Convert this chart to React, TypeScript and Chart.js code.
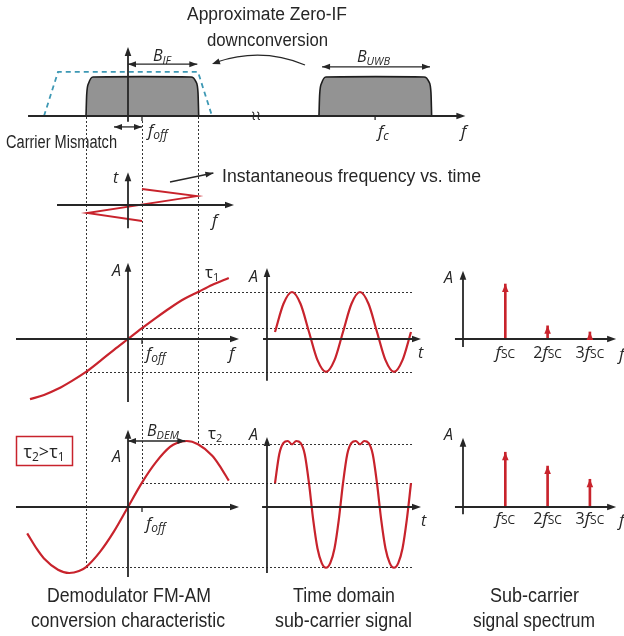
import React, { useEffect, useRef } from 'react';
import { Chart, registerables } from 'chart.js';

Chart.register(...registerables);

const W = 624;
const H = 636;

// ---------------- data ----------------
// frequency axis in IF units (origin = 0), carrier mismatch and UWB carrier
const fOff = 1;
const fCarrier = 17.65;
const guideF = [-3, 1, 5]; // IF band edges and f_off
const guideEndT = 2.03;

// top spectrum
const ifBandF = [-3, -2.95, -2.8, -2.5, 1, 4.5, 4.85, 5.0, 5.05];
const ifBandH = [0, 0.55, 0.85, 1.0, 1.01, 1.0, 0.88, 0.6, 0];
const uwbBandF = [13.64, 13.69, 13.84, 14.14, 17.7, 21.14, 21.49, 21.64, 21.69];
const uwbBandH = [0, 0.55, 0.85, 1.0, 1.01, 1.0, 0.88, 0.6, 0];
const filterF = [-6, -5, 5, 6];
const filterH = [0, 1.13, 1.13, 0];

// instantaneous frequency vs. time
const instF = [1, 4.93, -2.93, 1];
const instT = [2, 1.12, -1.0, -2];

// demodulator characteristic, tau1
const demod1F = [-7, -6, -5, -4, -3, -2, -1, 0, 1, 2, 3, 4, 5, 6, 7.2];
const demod1A = [-1.28, -1.19, -1.06, -0.89, -0.7, -0.47, -0.23, 0, 0.23, 0.45, 0.66, 0.85, 1.0, 1.15, 1.3];

// time-domain sub-carrier, tau1
const time1T = [0, 0.125, 0.25, 0.375, 0.5, 0.625, 0.75, 0.875, 1, 1.125, 1.25, 1.375, 1.5, 1.625, 1.75, 1.875, 2];
const time1A = [0.15, 0.75, 1.0, 0.75, 0.15, -0.45, -0.7, -0.45, 0.15, 0.75, 1.0, 0.75, 0.15, -0.45, -0.7, -0.45, 0.15];

// sub-carrier spectrum, tau1
const scK = [1, 2, 3];
const spec1A = [1.17, 0.28, 0.15];

// demodulator characteristic, tau2
const demod2F = [-7.2, -6.5, -6, -5, -4.2, -3.5, -3, -2, -1, 0, 1, 2, 3, 3.5, 4.2, 5, 6, 6.5, 7.2];
const demod2A = [-0.4, -0.64, -0.78, -0.95, -1.0, -0.97, -0.91, -0.68, -0.37, 0, 0.37, 0.68, 0.91, 0.97, 1.0, 0.95, 0.78, 0.64, 0.4];

// time-domain sub-carrier, tau2
const time2T = [0, 0.0625, 0.125, 0.1875, 0.25, 0.3125, 0.375, 0.4375, 0.5, 0.5625, 0.625, 0.6875, 0.75, 0.8125, 0.875, 0.9375, 1,
  1.0625, 1.125, 1.1875, 1.25, 1.3125, 1.375, 1.4375, 1.5, 1.5625, 1.625, 1.6875, 1.75, 1.8125, 1.875, 1.9375, 2];
const time2A = [0.36, 0.8, 0.97, 1.0, 0.95, 1.0, 0.97, 0.8, 0.36, -0.2, -0.63, -0.85, -0.92, -0.85, -0.63, -0.2, 0.36,
  0.8, 0.97, 1.0, 0.95, 1.0, 0.97, 0.8, 0.36, -0.2, -0.63, -0.85, -0.92, -0.85, -0.63, -0.2, 0.36];

// sub-carrier spectrum, tau2
const spec2A = [0.83, 0.62, 0.42];
const scLabels = ['', '2', '3'];

// ---------------- styling ----------------
const RED = '#c8232c';
const INK = '#262626';
const AXIS = '#262626';
const NARROW = '"Liberation Sans", Arial, sans-serif';
const MATH = '"Open Sans", "Noto Sans", sans-serif';

const pts = (xs: number[], ys: number[]) => xs.map((x, i) => ({ x, y: ys[i] }));

// map a data range onto a pixel origin / pixels-per-unit over the full canvas
const xMap = (origin: number, unit: number) => ({
  type: 'linear', display: false, offset: false, min: -origin / unit, max: (W - origin) / unit,
  grid: { display: false }, border: { display: false }, ticks: { display: false },
});
const yMap = (origin: number, unit: number) => ({
  type: 'linear', display: false, offset: false, min: (origin - H) / unit, max: origin / unit,
  grid: { display: false }, border: { display: false }, ticks: { display: false },
});

function seg(ctx: CanvasRenderingContext2D, x1: number, y1: number, x2: number, y2: number) {
  ctx.beginPath();
  ctx.moveTo(x1, y1);
  ctx.lineTo(x2, y2);
  ctx.stroke();
}

function head(ctx: CanvasRenderingContext2D, x: number, y: number, ang: number, len = 9, half = 3.3) {
  ctx.save();
  ctx.translate(x, y);
  ctx.rotate(ang);
  ctx.beginPath();
  ctx.moveTo(0, 0);
  ctx.lineTo(-len, -half);
  ctx.lineTo(-len, half);
  ctx.closePath();
  ctx.fill();
  ctx.restore();
}

function arrow(ctx: CanvasRenderingContext2D, x1: number, y1: number, x2: number, y2: number, both: boolean) {
  const ang = Math.atan2(y2 - y1, x2 - x1);
  seg(ctx, x1, y1, x2, y2);
  head(ctx, x2, y2, ang, 8, 3);
  if (both) head(ctx, x1, y1, ang + Math.PI, 8, 3);
}

function narrowText(ctx: CanvasRenderingContext2D, s: string, cx: number, base: number, size: number, width: number) {
  ctx.font = `${size}px ${NARROW}`;
  const w = ctx.measureText(s).width;
  ctx.save();
  ctx.translate(cx, base);
  ctx.scale(width / w, 1);
  ctx.textAlign = 'center';
  ctx.textBaseline = 'alphabetic';
  ctx.fillText(s, 0, 0);
  ctx.restore();
}

type Part = [string, number, boolean, number];
function mathText(ctx: CanvasRenderingContext2D, x: number, base: number, parts: Part[], align: 'left' | 'center' = 'left') {
  ctx.textAlign = 'left';
  ctx.textBaseline = 'alphabetic';
  const ws = parts.map(([t, sz, it]) => {
    ctx.font = `${it ? 'italic ' : ''}${sz}px ${MATH}`;
    return ctx.measureText(t).width;
  });
  const total = ws.reduce((a, b) => a + b, 0);
  let cx = align === 'center' ? x - total / 2 : x;
  parts.forEach(([t, sz, it, dy], i) => {
    ctx.font = `${it ? 'italic ' : ''}${sz}px ${MATH}`;
    ctx.fillText(t, cx, base + dy);
    cx += ws[i];
  });
}

const axesSpec: [string, string, 'h' | 'v', number, number, number][] = [
  ['xF', 'yS', 'h', 0, -7.14, 24.1],
  ['xF', 'yS', 'v', 0, -0.15, 1.77],
  ['xF', 'yI', 'h', 0, -5.07, 7.57],
  ['xF', 'yI', 'v', 0, -2.9, 4.1],
  ['xF', 'yA1', 'h', 0, -8, 7.93],
  ['xF', 'yA1', 'v', 0, -1.34, 1.62],
  ['xT', 'yA1', 'h', 0, -0.176, 2.147],
  ['xT', 'yA1', 'v', -0.118, -0.89, 1.51],
  ['xK', 'yA1', 'h', 0, -0.19, 3.62],
  ['xK', 'yA1', 'v', 0, -0.17, 1.45],
  ['xF', 'yA2', 'h', 0, -8, 7.93],
  ['xF', 'yA2', 'v', 0, -1.06, 1.17],
  ['xT', 'yA2', 'h', 0, -0.19, 2.147],
  ['xT', 'yA2', 'v', -0.118, -1.0, 1.06],
  ['xK', 'yA2', 'h', 0, -0.19, 3.62],
  ['xK', 'yA2', 'v', 0, -0.11, 1.05],
];

const diagramPlugin = {
  id: 'diagram',
  beforeDatasetsDraw(chart: any) {
    const ctx: CanvasRenderingContext2D = chart.ctx;
    const s = chart.scales;
    const P = (id: string, v: number) => s[id].getPixelForValue(v);
    ctx.save();
    ctx.strokeStyle = '#333';
    ctx.lineWidth = 1;
    ctx.setLineDash([2, 2]);
    guideF.forEach((f) => {
      const x = Math.round(P('xF', f)) + 0.5;
      const yTop = P('yS', 0) + (f === fOff ? 5 : 1);
      const yBot = P('yA2', demod2A[demod2F.indexOf(f)]);
      seg(ctx, x, yTop, x, yBot);
      const y1 = Math.round(P('yA1', demod1A[demod1F.indexOf(f)])) + 0.5;
      seg(ctx, P('xF', f), y1, P('xT', guideEndT), y1);
      const y2 = Math.round(P('yA2', demod2A[demod2F.indexOf(f)])) + 0.5;
      seg(ctx, P('xF', f), y2, P('xT', guideEndT), y2);
    });
    ctx.restore();
  },
  afterDatasetsDraw(chart: any) {
    const ctx: CanvasRenderingContext2D = chart.ctx;
    const s = chart.scales;
    const P = (id: string, v: number) => s[id].getPixelForValue(v);
    ctx.save();

    // axes with arrow heads
    ctx.strokeStyle = AXIS;
    ctx.fillStyle = AXIS;
    ctx.lineWidth = 1.8;
    ctx.setLineDash([]);
    axesSpec.forEach(([xi, yi, kind, fixed, a, b]) => {
      if (kind === 'h') {
        const y = P(yi, fixed);
        const x1 = P(xi, a), x2 = P(xi, b);
        seg(ctx, x1, y, x2 - 4, y);
        head(ctx, x2, y, 0);
      } else {
        const x = P(xi, fixed);
        const y1 = P(yi, a), y2 = P(yi, b);
        seg(ctx, x, y1, x, y2 + 4);
        head(ctx, x, y2, -Math.PI / 2);
      }
    });

    // small ticks
    ctx.lineWidth = 1.3;
    seg(ctx, P('xF', fOff), P('yS', 0), P('xF', fOff), P('yS', 0) + 5);
    seg(ctx, P('xF', fCarrier), P('yS', 0), P('xF', fCarrier), P('yS', 0) + 4);
    seg(ctx, P('xF', fOff), P('yA1', 0), P('xF', fOff), P('yA1', 0) + 5);
    seg(ctx, P('xF', fOff), P('yA2', 0), P('xF', fOff), P('yA2', 0) + 5);

    // axis break mark
    ctx.lineWidth = 1.1;
    [-2.5, 2.5].forEach((dx) => {
      const bx = 256 + dx;
      const by = P('yS', 0);
      ctx.beginPath();
      ctx.moveTo(bx - 1.5, by - 4);
      ctx.bezierCurveTo(bx + 3, by - 4, bx - 3, by + 4, bx + 1.5, by + 3.5);
      ctx.stroke();
    });

    // stem arrow heads
    ctx.fillStyle = RED;
    chart.data.datasets.forEach((ds: any, i: number) => {
      if (ds.type !== 'bar') return;
      chart.getDatasetMeta(i).data.forEach((el: any) => head(ctx, el.x, el.y, -Math.PI / 2, 8, 3.3));
    });

    // annotation arrows
    ctx.strokeStyle = INK;
    ctx.fillStyle = INK;
    ctx.lineWidth = 1.3;
    arrow(ctx, P('xF', 0), P('yS', 1.33), P('xF', 4.95), P('yS', 1.33), true);
    arrow(ctx, P('xF', 13.86), P('yS', 1.26), P('xF', 21.57), P('yS', 1.26), true);
    arrow(ctx, P('xF', -1), P('yS', -0.28), P('xF', fOff), P('yS', -0.28), true);
    arrow(ctx, P('xF', 0), P('yA2', 1.0), P('xF', 4.1), P('yA2', 1.0), true);
    arrow(ctx, P('xF', 3.0), P('yI', 2.875), P('xF', 6.1), P('yI', 4.0), false);
    // curved "downconversion" arrow
    ctx.beginPath();
    ctx.moveTo(305, 65);
    ctx.quadraticCurveTo(262, 47, 217, 62);
    ctx.stroke();
    head(ctx, 212, 64, Math.atan2(64 - 56, 212 - 235), 8, 3);

    // tau2 > tau1 box
    ctx.strokeStyle = RED;
    ctx.lineWidth = 1.5;
    ctx.strokeRect(16.5, 436.5, 56, 29);

    // texts
    ctx.fillStyle = INK;
    narrowText(ctx, 'Approximate Zero-IF', 267, 20, 18, 160);
    narrowText(ctx, 'downconversion', 267.5, 46, 18, 121);
    narrowText(ctx, 'Carrier Mismatch', 61.5, 148, 18, 111);
    narrowText(ctx, 'Instantaneous frequency vs. time', 351.5, 182, 19, 259);
    narrowText(ctx, 'Demodulator FM-AM', 129, 602, 21, 164);
    narrowText(ctx, 'conversion characteristic', 128, 627, 21, 194);
    narrowText(ctx, 'Time domain', 344, 602, 21, 102);
    narrowText(ctx, 'sub-carrier signal', 343.5, 627, 21, 137);
    narrowText(ctx, 'Sub-carrier', 534.5, 602, 21, 89);
    narrowText(ctx, 'signal spectrum', 534, 627, 21, 122);

    mathText(ctx, 153, 61, [['B', 16, true, 0], ['IF', 11, true, 3]]);
    mathText(ctx, 357, 62, [['B', 16, true, 0], ['UWB', 11, true, 3]]);
    mathText(ctx, 148, 136, [['f', 17, true, 0], ['off', 12, true, 3]]);
    mathText(ctx, 378, 137, [['f', 17, true, 0], ['c', 12, true, 3]]);
    mathText(ctx, 461, 137, [['f', 17, true, 0]]);
    mathText(ctx, 113, 183, [['t', 16, true, 0]]);
    mathText(ctx, 212, 226, [['f', 17, true, 0]]);

    mathText(ctx, 112, 276, [['A', 16, true, 0]]);
    mathText(ctx, 146, 359, [['f', 17, true, 0], ['off', 12, true, 3]]);
    mathText(ctx, 229, 359, [['f', 17, true, 0]]);
    mathText(ctx, 205, 278, [['τ', 17, false, 0], ['1', 11, false, 3]]);
    mathText(ctx, 249, 282, [['A', 16, true, 0]]);
    mathText(ctx, 418, 358, [['t', 16, true, 0]]);
    mathText(ctx, 444, 283, [['A', 16, true, 0]]);

    mathText(ctx, 112, 462, [['A', 16, true, 0]]);
    mathText(ctx, 147, 436, [['B', 16, true, 0], ['DEM', 11, true, 3]]);
    mathText(ctx, 208, 439, [['τ', 17, false, 0], ['2', 11, false, 3]]);
    mathText(ctx, 146, 529, [['f', 17, true, 0], ['off', 12, true, 3]]);
    mathText(ctx, 249, 440, [['A', 16, true, 0]]);
    mathText(ctx, 421, 526, [['t', 16, true, 0]]);
    mathText(ctx, 444, 440, [['A', 16, true, 0]]);

    mathText(ctx, 44, 458, [['τ', 18, false, 0], ['2', 12, false, 3], ['>', 18, false, 0], ['τ', 18, false, 0], ['1', 12, false, 3]], 'center');

    [358, 524].forEach((base) => {
      scK.forEach((k, i) => {
        mathText(ctx, P('xK', k), base, [[scLabels[i], 16, false, 0], ['f', 17, true, 0], ['SC', 12, false, 0]], 'center');
      });
      mathText(ctx, 619, base + 2, [['f', 17, true, 0]]);
    });

    ctx.restore();
  },
};

export default function App() {
  const ref = useRef<HTMLCanvasElement | null>(null);

  useEffect(() => {
    if (!ref.current) return;
    const line = (data: any, xAxisID: string, yAxisID: string, extra: any = {}) => ({
      type: 'line', data, xAxisID, yAxisID, pointRadius: 0, fill: false, tension: 0,
      borderColor: RED, borderWidth: 2.2, ...extra,
    });
    const datasets: any[] = [
      line(pts(filterF, filterH), 'xF', 'yS', { borderColor: '#3d98b4', borderWidth: 1.8, borderDash: [5, 4] }),
      line(pts(ifBandF, ifBandH), 'xF', 'yS', { borderColor: '#1e1e1e', borderWidth: 1.6, backgroundColor: '#939393', fill: 'origin', cubicInterpolationMode: 'monotone' }),
      line(pts(uwbBandF, uwbBandH), 'xF', 'yS', { borderColor: '#1e1e1e', borderWidth: 1.6, backgroundColor: '#939393', fill: 'origin', cubicInterpolationMode: 'monotone' }),
      line(pts(instF, instT), 'xF', 'yI', { borderWidth: 1.8 }),
      line(pts(demod1F, demod1A), 'xF', 'yA1', { cubicInterpolationMode: 'monotone' }),
      line(pts(time1T, time1A), 'xT', 'yA1', { cubicInterpolationMode: 'monotone' }),
      line(pts(demod2F, demod2A), 'xF', 'yA2', { cubicInterpolationMode: 'monotone' }),
      line(pts(time2T, time2A), 'xT', 'yA2', { cubicInterpolationMode: 'monotone' }),
      { type: 'bar', data: pts(scK, spec1A), xAxisID: 'xK', yAxisID: 'yA1', backgroundColor: RED, barThickness: 2, grouped: false, borderWidth: 0 },
      { type: 'bar', data: pts(scK, spec2A), xAxisID: 'xK', yAxisID: 'yA2', backgroundColor: RED, barThickness: 2, grouped: false, borderWidth: 0 },
    ];
    const chart = new Chart(ref.current, {
      type: 'scatter',
      data: { datasets },
      options: {
        animation: false,
        responsive: false,
        events: [],
        layout: { padding: 0 },
        plugins: { legend: { display: false }, tooltip: { enabled: false } },
        scales: {
          xF: xMap(128, 14),
          xT: xMap(275, 68),
          xK: xMap(463, 42.3),
          yS: yMap(116, 39),
          yI: yMap(205, 8),
          yA1: yMap(339, 47),
          yA2: yMap(507, 66),
        } as any,
      },
      plugins: [diagramPlugin],
    } as any);
    return () => chart.destroy();
  }, []);

  return (
    <div style={{ position: 'absolute', left: 0, top: 0, width: W, height: H, background: '#fff' }}>
      <canvas ref={ref} width={W} height={H} style={{ display: 'block', width: W, height: H }} />
    </div>
  );
}
